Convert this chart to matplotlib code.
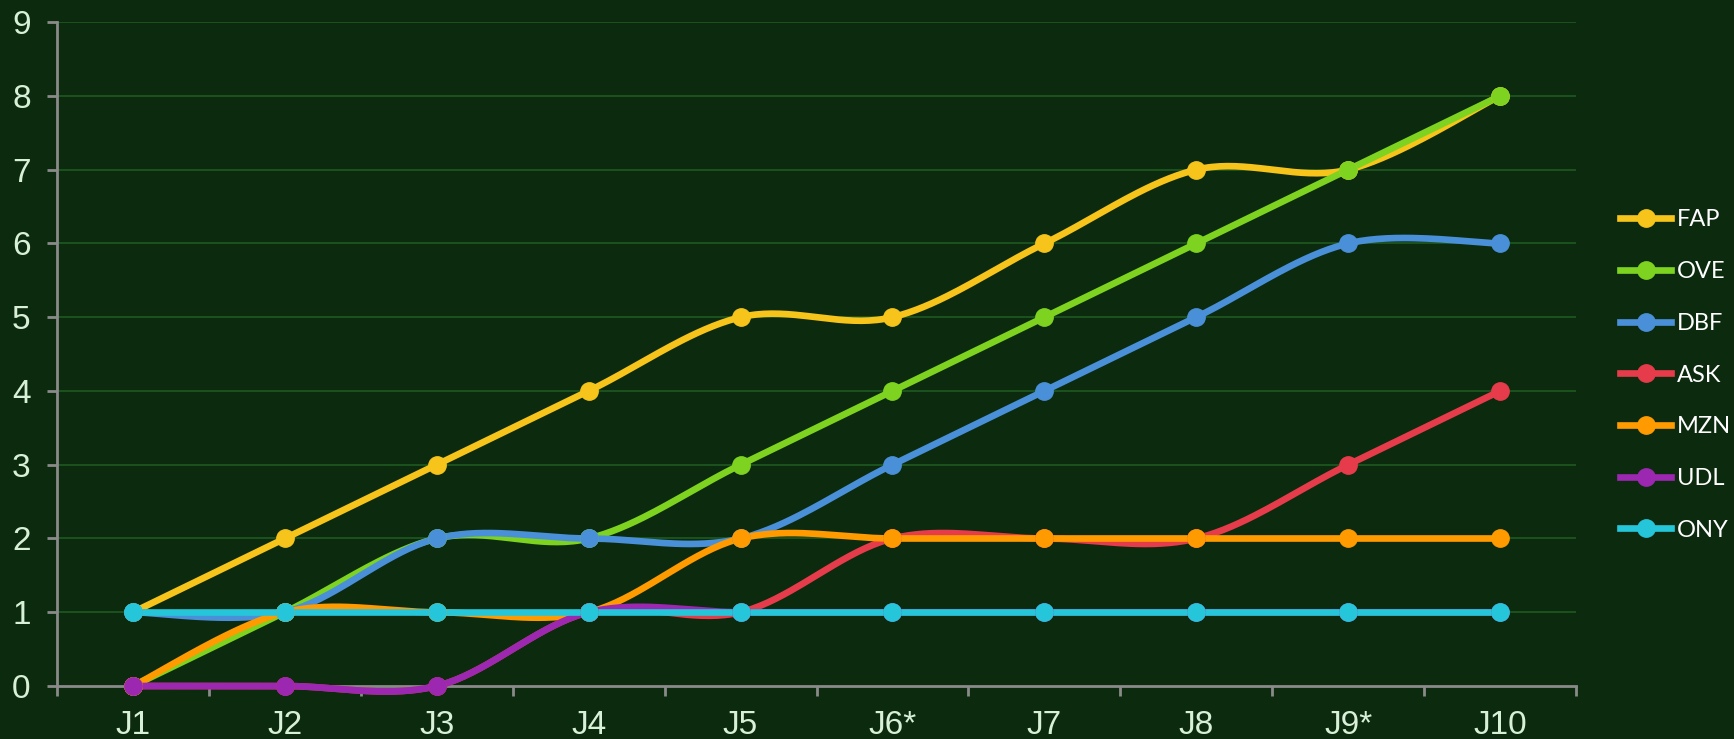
import numpy as np
import matplotlib
matplotlib.use("Agg")
import matplotlib.pyplot as plt
from matplotlib.lines import Line2D

categories = ["J1", "J2", "J3", "J4", "J5", "J6*", "J7", "J8", "J9*", "J10"]
series_names = ["FAP", "OVE", "DBF", "ASK", "MZN", "UDL", "ONY"]
FAP = [1, 2, 3, 4, 5, 5, 6, 7, 7, 8]
OVE = [0, 1, 2, 2, 3, 4, 5, 6, 7, 8]
DBF = [1, 1, 2, 2, 2, 3, 4, 5, 6, 6]
ASK = [0, 0, 0, 1, 1, 2, 2, 2, 3, 4]
MZN = [0, 1, 1, 1, 2, 2, 2, 2, 2, 2]
UDL = [0, 0, 0, 1, 1, 1, 1, 1, 1, 1]
ONY = [1, 1, 1, 1, 1, 1, 1, 1, 1, 1]
series_values = [FAP, OVE, DBF, ASK, MZN, UDL, ONY]
colors = ["#f6c41a", "#7ed321", "#4a90d9", "#e63b4a", "#ff9a00", "#9c27b0", "#26c6da"]

BG = "#0c2a0e"
TXT = "#d8efd8"


def smooth(x, y, n=40):
    x = np.asarray(x, float)
    y = np.asarray(y, float)
    xs, ys = [], []
    m = len(x)
    for i in range(m - 1):
        p0 = np.array([x[max(i - 1, 0)], y[max(i - 1, 0)]])
        p1 = np.array([x[i], y[i]])
        p2 = np.array([x[i + 1], y[i + 1]])
        p3 = np.array([x[min(i + 2, m - 1)], y[min(i + 2, m - 1)]])
        c1 = p1 + (p2 - p0) / 6.0
        c2 = p2 - (p3 - p1) / 6.0
        t = np.linspace(0, 1, n)[:, None]
        pts = ((1 - t) ** 3) * p1 + 3 * ((1 - t) ** 2) * t * c1 + 3 * (1 - t) * t ** 2 * c2 + t ** 3 * p2
        if i > 0:
            pts = pts[1:]
        xs.append(pts[:, 0])
        ys.append(pts[:, 1])
    return np.concatenate(xs), np.concatenate(ys)


fig = plt.figure(figsize=(17.34, 7.39), dpi=100, facecolor=BG)
ax = fig.add_axes([0.0329, 0.0717, 0.9089 - 0.0329, 0.970 - 0.0717])
ax.set_facecolor(BG)

x = np.arange(len(categories))
handles = []
for name, vals, c in zip(series_names, series_values, colors):
    sx, sy = smooth(x, vals)
    ax.plot(sx, sy, color=c, lw=4.8, solid_capstyle="round", zorder=3, clip_on=False)
    ax.plot(x, vals, "o", color=c, ms=12.5, zorder=4, clip_on=False)
    handles.append(Line2D([0], [0], color=c, lw=4.8, marker="o", ms=12.5, label=name))

ax.set_xlim(-0.5, len(categories) - 0.5)
ax.set_ylim(0, 9)
ax.set_yticks(range(0, 10))
ax.set_xticks(x)
ax.set_xticklabels(categories)
ax.set_xticks(np.arange(-0.5, len(categories)), minor=True)

for yv in range(1, 10):
    ax.axhline(yv, color="#1f5a1f", lw=1.2, zorder=1)

for s in ["top", "right"]:
    ax.spines[s].set_visible(False)
for s in ["left", "bottom"]:
    ax.spines[s].set_color("#8a8a8a")
    ax.spines[s].set_linewidth(2)
    ax.spines[s].set_zorder(2)

ax.tick_params(axis="y", colors="#8a8a8a", length=7, width=2, pad=12,
               labelcolor=TXT, labelsize=24)
ax.tick_params(axis="x", which="major", length=0, pad=17, labelcolor=TXT, labelsize=24)
ax.tick_params(axis="x", which="minor", length=7, width=2, colors="#8a8a8a")
for lab in ax.get_xticklabels() + ax.get_yticklabels():
    lab.set_fontfamily("Liberation Sans")

leg = fig.legend(handles=handles, loc="center left", bbox_to_anchor=(1620 / 1734, 1 - 375 / 739),
                 bbox_transform=fig.transFigure, borderpad=0, borderaxespad=0,
                 frameon=False, labelspacing=1.3, handlelength=2.16, handletextpad=0.25,
                 prop={"family": "Lato", "size": 17})
for t in leg.get_texts():
    t.set_color("white")

fig.savefig("out.png", dpi=100, facecolor=BG)
